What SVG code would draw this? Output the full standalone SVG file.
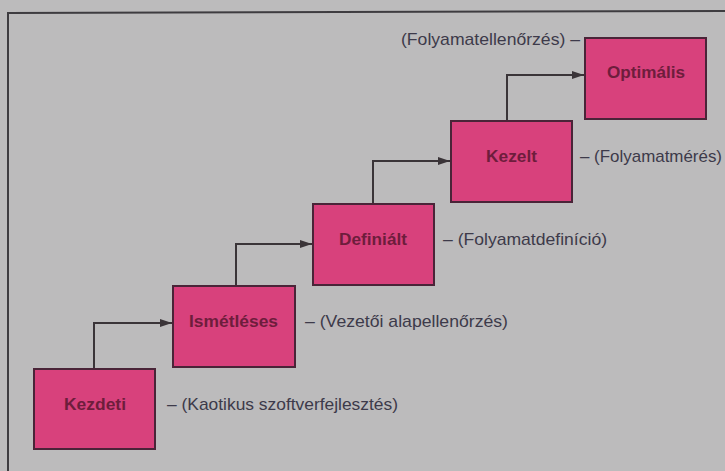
<svg xmlns="http://www.w3.org/2000/svg" width="725" height="471" viewBox="0 0 725 471">
<defs>
<marker id="arr" viewBox="0 0 12 8" refX="12" refY="4" markerWidth="12" markerHeight="8" markerUnits="userSpaceOnUse" orient="auto">
<path d="M0,0 L12,4 L0,8 Z" fill="#3a3438"/>
</marker>
<style>
.box{fill:#d8417c;stroke:#4a2438;stroke-width:2}
.bt{font-family:"Liberation Sans",Arial,sans-serif;font-weight:bold;font-size:17px;fill:#6e1d3c;text-anchor:middle}
.lb{font-family:"Liberation Sans",Arial,sans-serif;font-size:17px;fill:#3d3a4a}
.cn{fill:none;stroke:#3a3438;stroke-width:2}
.fr{fill:none;stroke:#3e3c40;stroke-width:2}
</style>
</defs>
<rect x="0" y="0" width="725" height="471" fill="#bcbbbc"/>
<path class="fr" d="M8,471 L8,13 L725,11"/>
<g id="connectors">
<path class="cn" d="M94,369 L94,323 L172,323" marker-end="url(#arr)"/>
<path class="cn" d="M236,286 L236,244 L312,244" marker-end="url(#arr)"/>
<path class="cn" d="M373,204 L373,161 L450,161" marker-end="url(#arr)"/>
<path class="cn" d="M507,121 L507,75 L584,75" marker-end="url(#arr)"/>
</g>
<g id="kezdeti">
<rect class="box" x="34" y="369" width="121" height="80"/>
<text class="bt" x="95" y="410" textLength="62" lengthAdjust="spacingAndGlyphs">Kezdeti</text>
<text class="lb" x="167" y="410" textLength="231" lengthAdjust="spacingAndGlyphs">– (Kaotikus szoftverfejlesztés)</text>
</g>
<g id="ismetleses">
<rect class="box" x="173" y="286" width="122" height="81"/>
<text class="bt" x="233.5" y="327" textLength="89" lengthAdjust="spacingAndGlyphs">Ismétléses</text>
<text class="lb" x="305" y="327" textLength="203" lengthAdjust="spacingAndGlyphs">– (Vezetői alapellenőrzés)</text>
</g>
<g id="definialt">
<rect class="box" x="313" y="204" width="121" height="81"/>
<text class="bt" x="373" y="245" textLength="68" lengthAdjust="spacingAndGlyphs">Definiált</text>
<text class="lb" x="443" y="245" textLength="164" lengthAdjust="spacingAndGlyphs">– (Folyamatdefiníció)</text>
</g>
<g id="kezelt">
<rect class="box" x="451" y="121" width="121" height="81"/>
<text class="bt" x="511.5" y="162" textLength="51" lengthAdjust="spacingAndGlyphs">Kezelt</text>
<text class="lb" x="580" y="162" textLength="142" lengthAdjust="spacingAndGlyphs">– (Folyamatmérés)</text>
</g>
<g id="optimalis">
<rect class="box" x="585" y="38" width="121" height="81"/>
<text class="bt" x="646" y="78" textLength="78" lengthAdjust="spacingAndGlyphs">Optimális</text>
<text class="lb" x="401" y="45" textLength="179" lengthAdjust="spacingAndGlyphs">(Folyamatellenőrzés) –</text>
</g>
</svg>
